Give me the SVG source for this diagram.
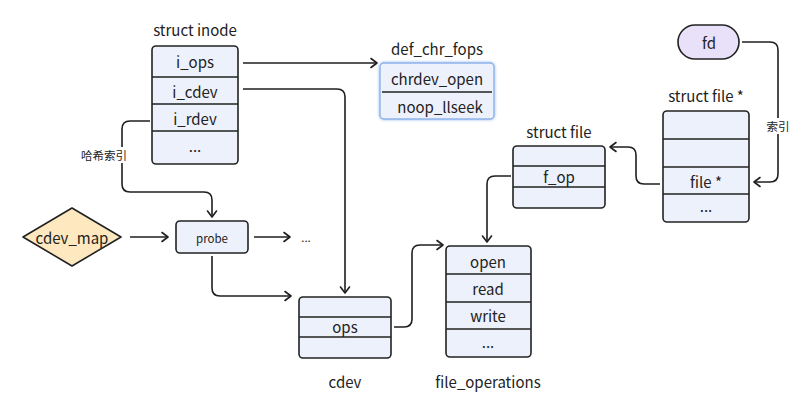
<svg xmlns="http://www.w3.org/2000/svg" width="803" height="408" viewBox="0 0 803 408">
<defs>
<marker id="arr" markerUnits="userSpaceOnUse" markerWidth="12" markerHeight="12" viewBox="0 0 12 12" refX="10" refY="6" orient="auto">
<path d="M4,1.5 L10,6 L4,10.5" fill="none" stroke="#1f1f1f" stroke-width="1.6" stroke-linejoin="round" stroke-linecap="round"/>
</marker>
<filter id="glow" x="-20%" y="-20%" width="140%" height="140%">
<feGaussianBlur stdDeviation="1.2"/>
</filter>
</defs>
<style>
text{font-family:"Noto Sans CJK SC","Noto Sans",sans-serif;fill:#222;text-anchor:middle;dominant-baseline:central}
.t{font-size:15px}
.s{font-size:11.5px}
.box{fill:#edf1fb;stroke:#222;stroke-width:1.6}
.div{stroke:#222;stroke-width:1.6}
.c{fill:none;stroke:#1f1f1f;stroke-width:1.6;marker-end:url(#arr)}
</style>
<rect width="803" height="408" fill="#fff"/>

<g id="connectors">
<path class="c" d="M243,63 H377"/>
<path class="c" d="M243,89 H337 Q345,89 345,97 V293"/>
<path class="c" d="M150,121 H130 Q122,121 122,129 V184 Q122,192 130,192 H204 Q212,192 212,200 V217"/>
<path class="c" d="M130,237 H168"/>
<path class="c" d="M254,237 H290"/>
<path class="c" d="M212,256 V288 Q212,296 220,296 H291"/>
<path class="c" d="M394,327 H404 Q412,327 412,319 V253 Q412,245 420,245 H443"/>
<path class="c" d="M511,176 H495 Q487,176 487,184 V242"/>
<path class="c" d="M742,42 H770 Q778,42 778,50 V174 Q778,182 770,182 H754"/>
<path class="c" d="M660,184 H644 Q636,184 636,176 V155 Q636,147 628,147 H610"/>
<rect x="82" y="147" width="46" height="16" fill="#fff"/>
<text class="s" x="104" y="155">哈希索引</text>
<rect x="766" y="118" width="24" height="16" fill="#fff"/>
<text class="s" x="778" y="126">索引</text>
<text class="s" x="306" y="237">...</text>
</g>

<g id="inode">
<text class="t" x="195" y="29">struct inode</text>
<rect class="box" x="152" y="46" width="86" height="118" rx="4"/>
<path class="div" d="M152,77 H238 M152,104 H238 M152,131 H238"/>
<text class="t" x="195" y="61">i_ops</text>
<text class="t" x="195" y="91">i_cdev</text>
<text class="t" x="195" y="118">i_rdev</text>
<text class="t" x="195" y="145">...</text>
</g>

<g id="def_chr_fops">
<text class="t" x="437" y="48">def_chr_fops</text>
<rect x="380" y="63" width="114" height="56" rx="4" fill="none" stroke="#bcd3f5" stroke-width="3" filter="url(#glow)"/>
<rect x="380" y="63" width="114" height="56" rx="4" fill="#edf1fb" stroke="#8eb2ea" stroke-width="1.4"/>
<path class="div" d="M382,92 H492"/>
<text class="t" x="437" y="78">chrdev_open</text>
<text class="t" x="440" y="106">noop_llseek</text>
</g>

<g id="cdev_map">
<path d="M23,237 L72,208 L121,237 L72,266 Z" fill="#fde8bf" stroke="#222" stroke-width="1.6" stroke-linejoin="round"/>
<text class="t" x="72" y="237">cdev_map</text>
</g>

<g id="probe">
<rect class="box" x="176" y="221" width="72" height="32" rx="4"/>
<text class="s" x="212" y="238">probe</text>
</g>

<g id="cdev">
<rect class="box" x="299" y="297" width="92" height="61" rx="4"/>
<path class="div" d="M299,317 H391 M299,337 H391"/>
<text class="t" x="345" y="326">ops</text>
<text class="t" x="345" y="381">cdev</text>
</g>

<g id="file_operations">
<rect class="box" x="446" y="246" width="85" height="111" rx="4"/>
<path class="div" d="M446,274 H531 M446,302 H531 M446,329 H531"/>
<text class="t" x="488" y="261">open</text>
<text class="t" x="488" y="288">read</text>
<text class="t" x="488" y="315">write</text>
<text class="t" x="488" y="341">...</text>
<text class="t" x="488" y="381">file_operations</text>
</g>

<g id="struct_file">
<text class="t" x="559" y="131">struct file</text>
<rect class="box" x="513" y="146" width="92" height="62" rx="4"/>
<path class="div" d="M513,166 H605 M513,187 H605"/>
<text class="t" x="559" y="176">f_op</text>
</g>

<g id="struct_file_ptr">
<text class="t" x="706" y="95">struct file *</text>
<rect class="box" x="663" y="111" width="86" height="111" rx="4"/>
<path class="div" d="M663,139 H749 M663,167 H749 M663,194 H749"/>
<text class="t" x="706" y="181">file *</text>
<text class="t" x="706" y="205">...</text>
</g>

<g id="fd">
<rect x="678" y="25" width="61" height="34" rx="17" fill="#e9e1fa" stroke="#222" stroke-width="1.6"/>
<text class="t" x="709" y="42">fd</text>
</g>
</svg>
